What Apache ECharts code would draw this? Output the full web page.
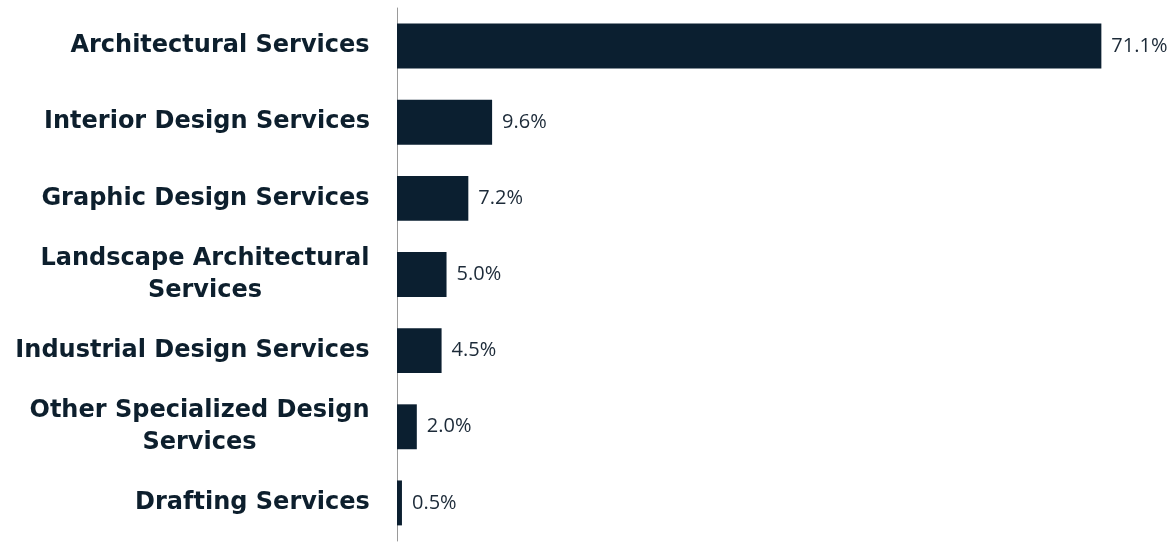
<!DOCTYPE html>
<html>
<head>
<meta charset="utf-8">
<script src="https://cdn.jsdelivr.net/npm/echarts@6/dist/echarts.min.js"></script>
<style>
  html, body { margin: 0; padding: 0; background: #fff; }
  #chart { width: 1169px; height: 543px; }
</style>
</head>
<body>
<div id="chart"></div>
<script>
// categories and shares (%)
var categories = [
  'Architectural Services',
  'Interior Design Services',
  'Graphic Design Services',
  'Landscape Architectural\nServices',
  'Industrial Design Services',
  'Other Specialized Design\nServices',
  'Drafting Services'
];
var shares = [71.1, 9.6, 7.2, 5.0, 4.5, 2.0, 0.5];

var labelFont = 'bold 24px "DejaVu Sans"';

// each label gets its own rich style: lines centred within the widest line
var measure = document.createElement('canvas').getContext('2d');
measure.font = labelFont;
var rich = {};
categories.forEach(function (c, i) {
  var w = 0;
  c.split('\n').forEach(function (line) {
    w = Math.max(w, Math.ceil(measure.measureText(line).width));
  });
  rich['c' + i] = { width: w, align: 'center' };
});

var chart = echarts.init(document.getElementById('chart'));
var option = {
  animation: false,
  grid: { left: 397, right: 29, top: 8, bottom: 2 },
  xAxis: {
    type: 'value',
    min: 0,
    max: 75,
    show: false
  },
  yAxis: {
    type: 'category',
    inverse: true,
    data: categories,
    axisLine: { show: true, lineStyle: { color: '#9a9a9a', width: 1 } },
    axisTick: { show: false },
    axisLabel: {
      margin: 27,
      fontFamily: 'DejaVu Sans',
      fontWeight: 'bold',
      fontSize: 24,
      lineHeight: 32,
      color: '#0d1f2d',
      rich: rich,
      formatter: function (v, i) {
        return v.split('\n').map(function (line) {
          return '{c' + i + '|' + line + '}';
        }).join('\n');
      }
    }
  },
  series: [{
    type: 'bar',
    data: shares,
    barCategoryGap: '41%',
    itemStyle: { color: '#0b1f30' },
    label: {
      show: true,
      position: 'right',
      distance: 10,
      fontFamily: 'Open Sans',
      fontSize: 20,
      fontWeight: 500,
      color: '#1c2a38',
      formatter: function (p) { return p.value.toFixed(1) + '%'; }
    }
  }]
};
chart.setOption(option);
</script>
</body>
</html>
